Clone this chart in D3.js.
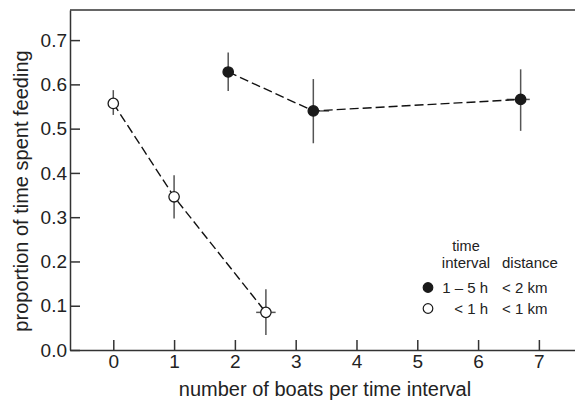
<!DOCTYPE html>
<html>
<head>
<meta charset="utf-8">
<script src="https://cdn.jsdelivr.net/npm/d3@7"></script>
<style>
  body { margin: 0; background: #fff; }
  svg { font-family: "Liberation Sans", Arial, Helvetica, sans-serif; }
  .axis path, .axis line { stroke: #333; stroke-width: 1.5; }
  .axis text { fill: #222; font-size: 19px; }
</style>
</head>
<body>
<div id="chart"></div>
<script>
// filled symbols: time interval 1 - 5 h, distance < 2 km
var boatsLong = [1.89, 3.29, 6.70];
var feedLong = [0.628, 0.540, 0.566];
var feedLongLo = [0.585, 0.467, 0.495];
var feedLongHi = [0.672, 0.612, 0.634];
var boatsLongLo = [1.89, 3.29, 6.47];
var boatsLongHi = [1.89, 3.55, 6.85];

// open symbols: time interval < 1 h, distance < 1 km
var boatsShort = [0, 1, 2.51];
var feedShort = [0.557, 0.346, 0.085];
var feedShortLo = [0.531, 0.297, 0.034];
var feedShortHi = [0.587, 0.395, 0.137];
var boatsShortLo = [0, 1, 2.35];
var boatsShortHi = [0, 1, 2.67];

var xTicks = [0, 1, 2, 3, 4, 5, 6, 7];
var yTicks = [0, 0.1, 0.2, 0.3, 0.4, 0.5, 0.6, 0.7];

var legendRows = [
    { filled: true, interval: "1 \u2013 5 h", distance: "< 2 km" },
    { filled: false, interval: "< 1 h", distance: "< 1 km" }
];

var chartSize = { width: 575, height: 404, margin: { top: 10, right: 0, bottom: 54, left: 70 } };
var w = chartSize.width - chartSize.margin.left - chartSize.margin.right,
    h = chartSize.height - chartSize.margin.top - chartSize.margin.bottom;

function series(xs, ys, yLo, yHi, xLo, xHi) {
    return xs.map(function (x, i) {
        return { x: x, y: ys[i], yLo: yLo[i], yHi: yHi[i], xLo: xLo[i], xHi: xHi[i] };
    });
}
var longData = series(boatsLong, feedLong, feedLongLo, feedLongHi, boatsLongLo, boatsLongHi);
var shortData = series(boatsShort, feedShort, feedShortLo, feedShortHi, boatsShortLo, boatsShortHi);

var svg = d3.select("#chart").append("svg")
    .attr("width", chartSize.width)
    .attr("height", chartSize.height);

var g = svg.append("g")
    .attr("transform", "translate(" + chartSize.margin.left + "," + chartSize.margin.top + ")");

var xScale = d3.scaleLinear().domain([-0.712, 7.594]).range([0, w]);
var yScale = d3.scaleLinear().domain([0, 0.768]).range([h, 0]);

// axes, ticks pointing inward
g.append("g")
    .attr("class", "axis")
    .attr("transform", "translate(0," + h + ")")
    .call(d3.axisBottom(xScale).tickValues(xTicks).tickSize(-10).tickSizeOuter(0).tickPadding(5));

g.append("g")
    .attr("class", "axis")
    .call(d3.axisLeft(yScale).tickValues(yTicks).tickFormat(d3.format(".1f"))
        .tickSize(-10).tickSizeOuter(0).tickPadding(3));

// top frame line
g.append("line")
    .attr("x1", 0).attr("x2", w)
    .attr("y1", 0).attr("y2", 0)
    .attr("stroke", "#333").attr("stroke-width", 1.5);

// axis titles
svg.append("text")
    .attr("x", 325)
    .attr("y", 396)
    .attr("text-anchor", "middle")
    .style("font-size", "20px")
    .attr("fill", "#222")
    .text("number of boats per time interval");

svg.append("text")
    .attr("transform", "translate(28,191) rotate(-90)")
    .attr("text-anchor", "middle")
    .style("font-size", "20px")
    .attr("fill", "#222")
    .text("proportion of time spent feeding");

// error bars, lines, points
function drawSeries(data, filled) {
    var grp = g.append("g");

    grp.selectAll("line.ey").data(data).enter().append("line")
        .attr("x1", function (d) { return xScale(d.x); })
        .attr("x2", function (d) { return xScale(d.x); })
        .attr("y1", function (d) { return yScale(d.yLo); })
        .attr("y2", function (d) { return yScale(d.yHi); })
        .attr("stroke", "#555").attr("stroke-width", 1.5);

    grp.selectAll("line.ex").data(data.filter(function (d) { return d.xHi > d.xLo; })).enter().append("line")
        .attr("x1", function (d) { return xScale(d.xLo); })
        .attr("x2", function (d) { return xScale(d.xHi); })
        .attr("y1", function (d) { return yScale(d.y); })
        .attr("y2", function (d) { return yScale(d.y); })
        .attr("stroke", "#555").attr("stroke-width", 1.5);

    var line = d3.line()
        .x(function (d) { return xScale(d.x); })
        .y(function (d) { return yScale(d.y); });

    grp.append("path")
        .datum(data)
        .attr("d", line)
        .attr("fill", "none")
        .attr("stroke", "#111")
        .attr("stroke-width", 1.4)
        .attr("stroke-dasharray", "9,4");

    grp.selectAll("circle").data(data).enter().append("circle")
        .attr("cx", function (d) { return xScale(d.x); })
        .attr("cy", function (d) { return yScale(d.y); })
        .attr("r", 5.2)
        .attr("fill", filled ? "#1a1a1a" : "#fff")
        .attr("stroke", "#1a1a1a")
        .attr("stroke-width", 1.3);
}
drawSeries(longData, true);
drawSeries(shortData, false);

// legend
var legend = svg.append("g")
    .style("font-size", "15px")
    .attr("fill", "#222");

legend.append("text").attr("x", 466).attr("y", 251).attr("text-anchor", "middle")
    .style("font-size", "14.5px").text("time");
legend.append("text").attr("x", 466).attr("y", 268).attr("text-anchor", "middle").text("interval");
legend.append("text").attr("x", 502).attr("y", 268).text("distance");

var rows = legend.selectAll("g.row").data(legendRows).enter().append("g")
    .attr("transform", function (d, i) { return "translate(0," + (i * 21) + ")"; });

rows.append("circle")
    .attr("cx", 428).attr("cy", 287.5).attr("r", 4.8)
    .attr("fill", function (d) { return d.filled ? "#1a1a1a" : "#fff"; })
    .attr("stroke", "#1a1a1a").attr("stroke-width", 1.2);

rows.append("text")
    .attr("x", 488).attr("y", 293)
    .attr("text-anchor", "end")
    .text(function (d) { return d.interval; });

rows.append("text")
    .attr("x", 502).attr("y", 293)
    .text(function (d) { return d.distance; });
</script>
</body>
</html>
